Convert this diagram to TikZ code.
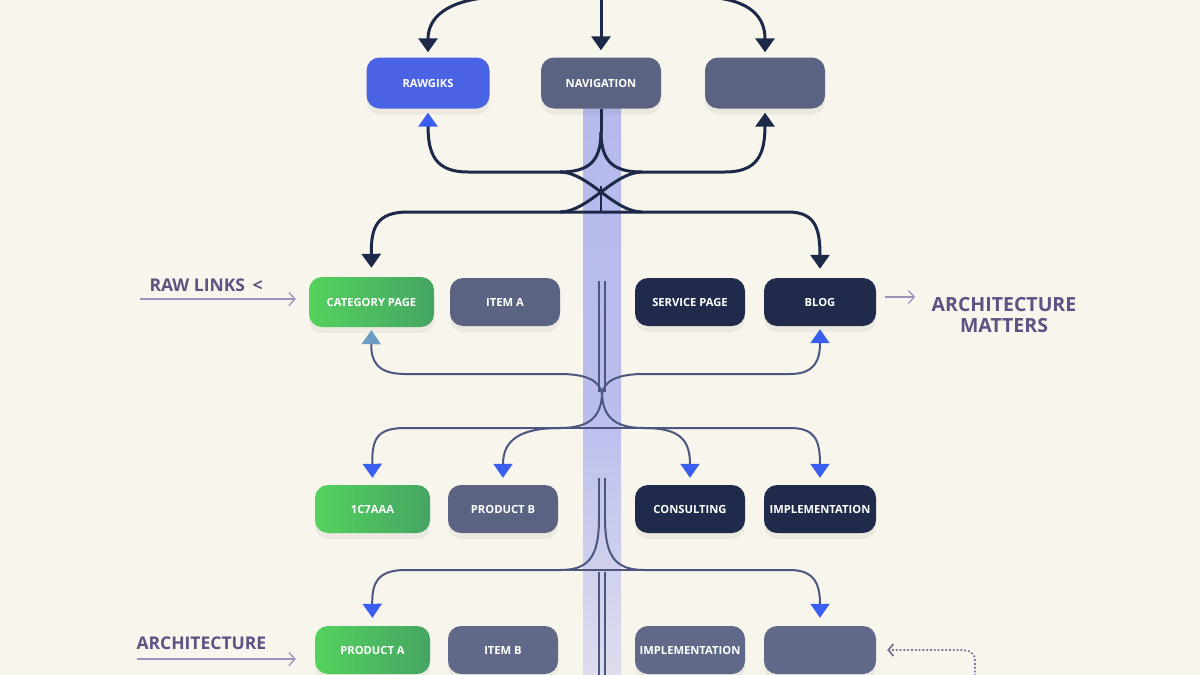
\documentclass[tikz,border=0pt]{standalone}
\usepackage{fontspec}
\setmainfont{Open Sans}
\usetikzlibrary{arrows.meta,shadows}
\definecolor{paper}{HTML}{F8F5EC}
\definecolor{inkdark}{HTML}{1D2948}
\definecolor{inkslate}{HTML}{4C5780}
\definecolor{boxblue}{HTML}{4A62E4}
\definecolor{boxgray}{HTML}{5A6382}
\definecolor{boxpale}{HTML}{606988}
\definecolor{boxnavy}{HTML}{202B4B}
\definecolor{greenleft}{HTML}{55D25E}
\definecolor{greenright}{HTML}{45A563}
\definecolor{tipblue}{HTML}{3A5EEF}
\definecolor{tipteal}{HTML}{6C9CC4}
\definecolor{labelpurple}{HTML}{5E5283}
\definecolor{pointer}{HTML}{9D92BA}
\definecolor{bandtop}{HTML}{B5B9EC}
\definecolor{bandlow}{HTML}{DEDDEE}
\begin{document}
\begin{tikzpicture}[x=1pt,y=-1pt,
  page/.style={rounded corners=13pt,minimum width=110pt,minimum height=48pt,
    text=white,font=\bfseries\fontsize{11.2}{13}\selectfont,inner sep=2pt,
    drop shadow={shadow xshift=0pt,shadow yshift=-6pt,opacity=0.10}},
  bluepage/.style={page,fill=boxblue},
  graypage/.style={page,fill=boxgray},
  palepage/.style={page,fill=boxpale},
  navypage/.style={page,fill=boxnavy},
  greenpage/.style={page,left color=greenleft,right color=greenright},
  sidelabel/.style={text=labelpurple,font=\bfseries\fontsize{17.5}{20}\selectfont},
  darkwire/.style={draw=inkdark,line width=3pt},
  slatewire/.style={draw=inkslate,line width=2pt},
  rail/.style={draw=inkslate,line width=1.6pt},
  darktip/.style={-{Triangle[width=19pt,length=14pt]}},
  bluetip/.style={-{Triangle[width=19pt,length=14pt,color=tipblue]}},
  tealtip/.style={-{Triangle[width=19pt,length=14pt,color=tipteal]}},
  pointerline/.style={draw=pointer,line width=1.3pt,-{Straight Barb[length=6pt,width=13pt]}},
  dotline/.style={draw=pointer!80!black,line width=1.8pt,dotted,-{Straight Barb[length=5pt,width=12pt]}}]
  \useasboundingbox (0,0) rectangle (1200,675);
  \fill[paper] (0,0) rectangle (1200,675);
  % guide band
  \fill[top color=bandtop,bottom color=bandtop!92!paper] (583,108) rectangle (621,410);
  \fill[top color=bandtop!92!paper,bottom color=bandlow] (583,410) rectangle (621,675);

  % pages
  \node[bluepage,minimum width=123pt,minimum height=51pt] (rawgiks) at (428,83) {RAWGIKS};
  \node[graypage,minimum width=120pt,minimum height=51pt] (navigation) at (601,83) {NAVIGATION};
  \node[graypage,minimum width=120pt,minimum height=51pt] (blanktop) at (765,83) {};
  \node[greenpage,minimum width=125pt,minimum height=50pt] (category) at (371.5,302) {CATEGORY PAGE};
  \node[graypage] (itema) at (505,302) {ITEM A};
  \node[navypage] (service) at (690,302) {SERVICE PAGE};
  \node[navypage,minimum width=112pt] (blog) at (820,302) {BLOG};
  \node[greenpage,minimum width=115pt] (ictaaa) at (372.5,509) {1C7AAA};
  \node[graypage] (productb) at (503,509) {PRODUCT B};
  \node[navypage] (consulting) at (690,509) {CONSULTING};
  \node[navypage,minimum width=112pt] (implementation) at (820,509) {IMPLEMENTATION};
  \node[greenpage,minimum width=115pt] (producta) at (372.5,650) {PRODUCT A};
  \node[palepage] (itemb) at (503,650) {ITEM B};
  \node[palepage] (implementationb) at (690,650) {IMPLEMENTATION};
  \node[palepage,minimum width=112pt] (blankbottom) at (820,650) {};

  % feeds into the top row
  \coordinate (feedleft) at (494,-3);
  \coordinate (feedmid) at (601,-3);
  \coordinate (feedright) at (708,-3);
  \draw[darkwire,darktip,shorten >=5pt] (feedleft) .. controls (446,0) and (428,18) .. (rawgiks.north);
  \draw[darkwire,darktip,shorten >=7pt] (feedmid) -- (navigation.north);
  \draw[darkwire,darktip,shorten >=5pt] (feedright) .. controls (752,0) and (765,18) .. (blanktop.north);

  % navigation split and knot
  \coordinate (navsplit) at (601,132);
  \coordinate (knotleft) at (560,172);
  \coordinate (knotright) at (642,172);
  \coordinate (lowhub) at (601,212);
  \draw[darkwire] (navigation.south) -- (navsplit);
  \draw[darkwire,bluetip,shorten >=4pt] (navsplit) .. controls (601,162) and (588,172) .. (knotleft)
    -- (468,172) .. controls (436,172) and (428,155) .. (rawgiks.south);
  \draw[darkwire,darktip,shorten >=4pt] (navsplit) .. controls (601,162) and (614,172) .. (knotright)
    -- (725,172) .. controls (757,172) and (765,155) .. (blanktop.south);
  \draw[darkwire] (knotleft) .. controls (588,172) and (614,212) .. (642,212);
  \draw[darkwire] (knotright) .. controls (614,172) and (588,212) .. (560,212);
  \draw[darkwire,line width=2.2pt] (601,186) -- (lowhub);
  \draw[darkwire,darktip,shorten >=9pt] (lowhub) -- (408,212) .. controls (376,212) and (371,228) .. (category.north);
  \draw[darkwire,darktip,shorten >=9pt] (lowhub) -- (788,212) .. controls (815,212) and (820,228) .. (blog.north);

  % middle spread
  \coordinate (railtopa) at (599,281);
  \coordinate (railtopb) at (605,281);
  \coordinate (midhub) at (602,394);
  \draw[rail] (railtopa) -- (599,392);
  \draw[rail] (railtopb) -- (605,392);
  \draw[slatewire,tealtip,shorten >=3pt] (midhub) .. controls (600,380) and (585,374) .. (560,374)
    -- (405,374) .. controls (376,374) and (371,360) .. (category.south);
  \draw[slatewire,bluetip,shorten >=3pt] (midhub) .. controls (604,380) and (619,374) .. (644,374)
    -- (790,374) .. controls (815,374) and (820,360) .. (blog.south);
  \draw[slatewire] (560,428) -- (644,428);
  \draw[slatewire,bluetip,shorten >=7pt] (midhub) .. controls (601,418) and (588,428) .. (560,428)
    -- (405,428) .. controls (376,428) and (372,440) .. (ictaaa.north);
  \draw[slatewire,bluetip,shorten >=7pt] (560,428) .. controls (520,428) and (503,440) .. (productb.north);
  \draw[slatewire,bluetip,shorten >=7pt] (midhub) .. controls (603,418) and (616,428) .. (644,428)
    -- (790,428) .. controls (815,428) and (820,440) .. (implementation.north);
  \draw[slatewire,bluetip,shorten >=7pt] (644,428) .. controls (680,428) and (690,440) .. (consulting.north);

  % lower spread
  \coordinate (railmida) at (599,478);
  \coordinate (railmidb) at (605,478);
  \draw[rail] (railmida) -- (599,518);
  \draw[rail] (railmidb) -- (605,518);
  \draw[slatewire,bluetip,shorten >=8pt] (599,518) .. controls (599,558) and (588,570) .. (560,570)
    -- (405,570) .. controls (376,570) and (372,585) .. (producta.north);
  \draw[slatewire,bluetip,shorten >=8pt] (605,518) .. controls (605,558) and (616,570) .. (645,570)
    -- (790,570) .. controls (815,570) and (820,585) .. (blankbottom.north);
  \draw[slatewire] (560,570) -- (645,570);
  \coordinate (railenda) at (599,680);
  \coordinate (railendb) at (605,680);
  \draw[rail] (599,572) -- (railenda);
  \draw[rail] (605,572) -- (railendb);

  % side notes
  \node[sidelabel,anchor=west] (rawlinks) at (146,285) {RAW LINKS \,<};
  \coordinate (rawtail) at (140,299);
  \draw[pointerline,shorten >=13pt] (rawtail) -- (rawtail -| category.west);
  \node[sidelabel,align=center,font=\bfseries\fontsize{19.5}{21}\selectfont] (matters) at (1004,315) {ARCHITECTURE\\MATTERS};
  \coordinate (blogout) at ([yshift=5pt]blog.east);
  \draw[pointerline,shorten <=9pt,shorten >=13pt] (blogout) -- (blogout -| matters.west);
  \node[sidelabel,anchor=west] (architecture) at (133,643) {ARCHITECTURE};
  \coordinate (archtail) at (137,659);
  \draw[pointerline,shorten >=19pt] (archtail) -- (archtail -| producta.west);
  \coordinate (loopin) at (975,680);
  \draw[dotline,shorten >=11pt] (loopin) -- (975,662) .. controls (975,652) and (970,650) .. (958,650) -- (blankbottom.east);
\end{tikzpicture}
\end{document}
